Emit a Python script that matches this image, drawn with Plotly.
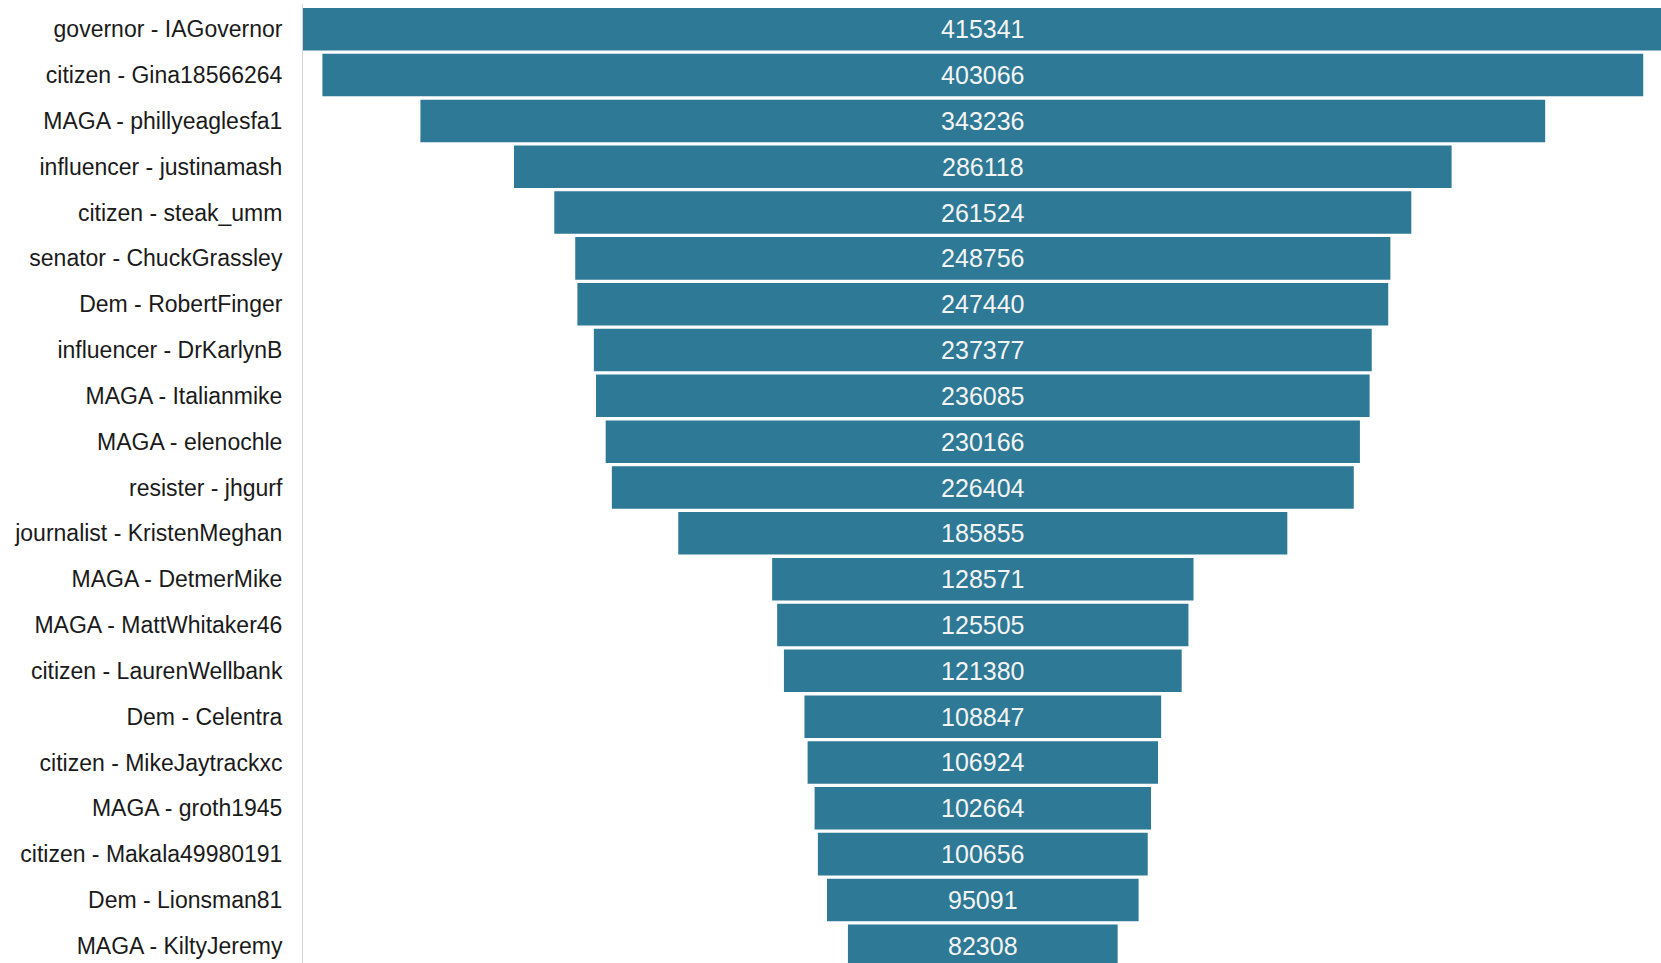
import plotly.graph_objects as go

labels = [
    "governor - IAGovernor",
    "citizen - Gina18566264",
    "MAGA - phillyeaglesfa1",
    "influencer - justinamash",
    "citizen - steak_umm",
    "senator - ChuckGrassley",
    "Dem - RobertFinger",
    "influencer - DrKarlynB",
    "MAGA - Italianmike",
    "MAGA - elenochle",
    "resister - jhgurf",
    "journalist - KristenMeghan",
    "MAGA - DetmerMike",
    "MAGA - MattWhitaker46",
    "citizen - LaurenWellbank",
    "Dem - Celentra",
    "citizen - MikeJaytrackxc",
    "MAGA - groth1945",
    "citizen - Makala49980191",
    "Dem - Lionsman81",
    "MAGA - KiltyJeremy",
]
values = [415341, 403066, 343236, 286118, 261524, 248756, 247440, 237377,
          236085, 230166, 226404, 185855, 128571, 125505, 121380, 108847,
          106924, 102664, 100656, 95091, 82308]

FONT = "Liberation Sans, Arial, sans-serif"

fig = go.Figure(go.Funnel(
    y=labels,
    x=values,
    text=[str(v) for v in values],
    textinfo="text",
    textposition="inside",
    insidetextfont=dict(family=FONT, size=25, color="#f4f4f4"),
    marker=dict(color="#2e7995", line=dict(width=0)),
    connector=dict(visible=False),
    hoverinfo="y+x",
))

fig.update_layout(
    width=1661,
    height=963,
    margin=dict(l=303, r=0, t=4, b=0, pad=0),
    paper_bgcolor="white",
    plot_bgcolor="white",
    funnelgap=0.072,
    showlegend=False,
    font=dict(family=FONT, size=23, color="#1a1a1a"),
    xaxis=dict(range=[-207450, 206960], visible=False, showgrid=False,
               zeroline=False, fixedrange=True),
    yaxis=dict(range=[20.376, -0.551], showgrid=False, zeroline=False,
               showline=True, linecolor="#d4d4d4", linewidth=1,
               ticks="", ticklabelstandoff=15,
               tickfont=dict(family=FONT, size=23, color="#1a1a1a")),
)

fig.write_html(
    "out.html",
    config={"displayModeBar": False},
    post_script="document.body.style.margin='0';document.body.style.overflow='hidden';",
)
